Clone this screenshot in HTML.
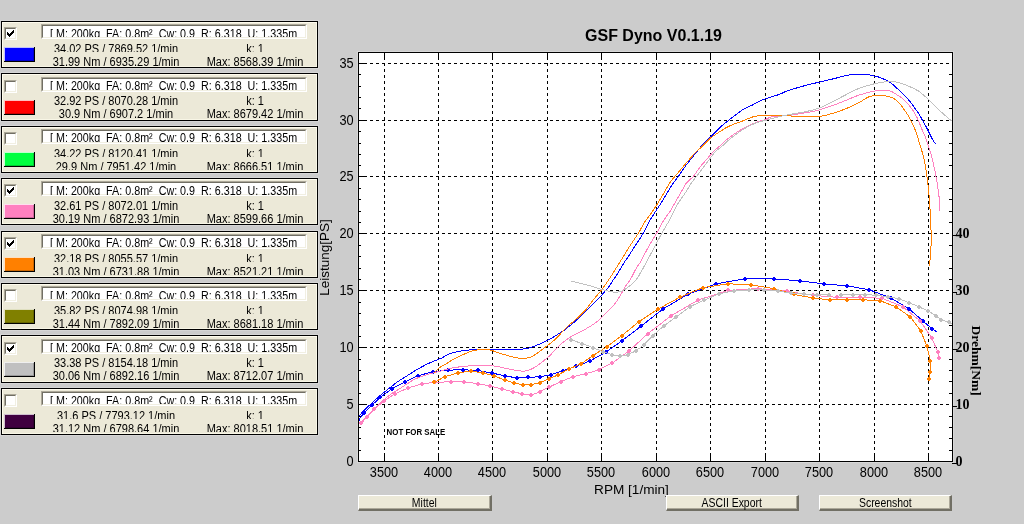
<!DOCTYPE html>
<html><head><meta charset="utf-8"><title>GSF Dyno</title><style>
html,body{margin:0;padding:0}
body{width:1024px;height:524px;background:#CCCCCC;position:relative;overflow:hidden;font-family:"Liberation Sans",Arial,sans-serif;font-size:11px;color:#000}
.pn{position:absolute;left:1px;width:317px;box-sizing:border-box;border:1px solid #000;background:#ECE9D8;box-shadow:inset 1px 1px 0 #FFFCEE,inset -1px -1px 0 #F8F6E6,0 0 0 1px #D6D6D6}
.cb{position:absolute;left:4px;width:13px;height:13px;box-sizing:border-box;background:#fff;border:1px solid;border-color:#ACA899 #FFFFFF #FFFFFF #ACA899}
.cb::before{content:"";position:absolute;left:0;top:0;right:0;bottom:0;border:1px solid;border-color:#716F64 #F1EFE2 #F1EFE2 #716F64}
.cb svg{left:2px!important;top:2px!important}
.sw{position:absolute;left:4px;width:31px;height:15px;box-sizing:border-box;border-right:1px solid #000;border-bottom:1px solid #000;box-shadow:inset 1px 1px 0 rgba(255,255,255,0.75),inset -1px -1px 0 rgba(0,0,0,0.2)}
.tb{position:absolute;left:41px;width:266px;height:15px;box-sizing:border-box;background:#fff;border:1px solid;border-color:#ACA899 #FFFFFF #FFFFFF #ACA899}
.tb::before{content:"";position:absolute;left:0;top:0;right:0;bottom:0;border:1px solid;border-color:#716F64 #F1EFE2 #F1EFE2 #716F64}
.tbc{position:absolute;left:43px;width:261px;overflow:hidden}
.tbt{position:absolute;left:6.6px;white-space:pre;line-height:13px;font-size:12px;transform:scaleX(0.895);transform-origin:0 0}
.ln{position:absolute;left:2px;width:315px;overflow:hidden;white-space:nowrap;font-size:12px}
.c1,.c2{position:absolute;top:0;line-height:13px;transform:translateX(-50%) scaleX(0.917)}
.c1{left:114px}
.c2{left:253px}
.ch{position:absolute;left:0;top:0}
.bt{position:absolute;top:495px;height:16px;box-sizing:border-box;background:#ECE9D8;border-style:solid;border-width:1px 2px 2px 1px;border-color:#FFFFFF #716F64 #716F64 #FFFFFF;box-shadow:inset -1px -1px 0 #ACA899;text-align:center;line-height:14px;font-size:12px}
.bt span{display:inline-block;transform:scaleX(0.87)}
</style></head>
<body>
<div class="pn" style="top:21px;height:47px"></div><div class="cb" style="top:27px"><svg width="7" height="7" viewBox="0 0 7 7" style="position:absolute;left:1px;top:1px" shape-rendering="crispEdges"><path d="M6 0h1v3h-1v1h-1v1h-1v1h-1v1h-1v-1h-1v-1h-1v-3h1v1h1v1h1v-1h1v-1h1z" fill="#000"/></svg></div><div class="sw" style="top:47px;background:#0000FF"></div><div class="tb" style="top:24px"></div><div class="tbc" style="top:26px;height:11px"><div class="tbt" style="top:2px">[ M: 200kg&nbsp; FA: 0.8m&sup2;&nbsp; Cw: 0.9&nbsp; R: 6.318&nbsp; U: 1.335m</div></div><div class="ln" style="top:43px;height:9px"><span class="c1">34.02 PS / 7869.52 1/min</span><span class="c2">k: 1</span></div><div class="ln" style="top:56px;height:11px"><span class="c1">31.99 Nm / 6935.29 1/min</span><span class="c2">Max: 8568.39 1/min</span></div><div class="pn" style="top:73px;height:48px"></div><div class="cb" style="top:80px"></div><div class="sw" style="top:100px;background:#FF0000"></div><div class="tb" style="top:77px"></div><div class="tbc" style="top:79px;height:11px"><div class="tbt" style="top:1px">[ M: 200kg&nbsp; FA: 0.8m&sup2;&nbsp; Cw: 0.9&nbsp; R: 6.318&nbsp; U: 1.335m</div></div><div class="ln" style="top:95px;height:25px"><span class="c1">32.92 PS / 8070.28 1/min</span><span class="c2">k: 1</span></div><div class="ln" style="top:108px;height:12px"><span class="c1">30.9 Nm / 6907.2 1/min</span><span class="c2">Max: 8679.42 1/min</span></div><div class="pn" style="top:126px;height:47px"></div><div class="cb" style="top:132px"></div><div class="sw" style="top:152px;background:#00FF40"></div><div class="tb" style="top:129px"></div><div class="tbc" style="top:131px;height:11px"><div class="tbt" style="top:1px">[ M: 200kg&nbsp; FA: 0.8m&sup2;&nbsp; Cw: 0.9&nbsp; R: 6.318&nbsp; U: 1.335m</div></div><div class="ln" style="top:148px;height:9px"><span class="c1">34.22 PS / 8120.41 1/min</span><span class="c2">k: 1</span></div><div class="ln" style="top:161px;height:9px"><span class="c1">29.9 Nm / 7951.42 1/min</span><span class="c2">Max: 8666.51 1/min</span></div><div class="pn" style="top:178px;height:47px"></div><div class="cb" style="top:184px"><svg width="7" height="7" viewBox="0 0 7 7" style="position:absolute;left:1px;top:1px" shape-rendering="crispEdges"><path d="M6 0h1v3h-1v1h-1v1h-1v1h-1v1h-1v-1h-1v-1h-1v-3h1v1h1v1h1v-1h1v-1h1z" fill="#000"/></svg></div><div class="sw" style="top:204px;background:#FF80C0"></div><div class="tb" style="top:181px"></div><div class="tbc" style="top:183px;height:12px"><div class="tbt" style="top:2px">[ M: 200kg&nbsp; FA: 0.8m&sup2;&nbsp; Cw: 0.9&nbsp; R: 6.318&nbsp; U: 1.335m</div></div><div class="ln" style="top:200px;height:24px"><span class="c1">32.61 PS / 8072.01 1/min</span><span class="c2">k: 1</span></div><div class="ln" style="top:213px;height:11px"><span class="c1">30.19 Nm / 6872.93 1/min</span><span class="c2">Max: 8599.66 1/min</span></div><div class="pn" style="top:231px;height:47px"></div><div class="cb" style="top:237px"><svg width="7" height="7" viewBox="0 0 7 7" style="position:absolute;left:1px;top:1px" shape-rendering="crispEdges"><path d="M6 0h1v3h-1v1h-1v1h-1v1h-1v1h-1v-1h-1v-1h-1v-3h1v1h1v1h1v-1h1v-1h1z" fill="#000"/></svg></div><div class="sw" style="top:257px;background:#FF8000"></div><div class="tb" style="top:234px"></div><div class="tbc" style="top:236px;height:11px"><div class="tbt" style="top:1px">[ M: 200kg&nbsp; FA: 0.8m&sup2;&nbsp; Cw: 0.9&nbsp; R: 6.318&nbsp; U: 1.335m</div></div><div class="ln" style="top:253px;height:9px"><span class="c1">32.18 PS / 8055.57 1/min</span><span class="c2">k: 1</span></div><div class="ln" style="top:266px;height:9px"><span class="c1">31.03 Nm / 6731.88 1/min</span><span class="c2">Max: 8521.21 1/min</span></div><div class="pn" style="top:283px;height:47px"></div><div class="cb" style="top:289px"></div><div class="sw" style="top:309px;background:#808000"></div><div class="tb" style="top:286px"></div><div class="tbc" style="top:288px;height:11px"><div class="tbt" style="top:2px">[ M: 200kg&nbsp; FA: 0.8m&sup2;&nbsp; Cw: 0.9&nbsp; R: 6.318&nbsp; U: 1.335m</div></div><div class="ln" style="top:305px;height:9px"><span class="c1">35.82 PS / 8074.98 1/min</span><span class="c2">k: 1</span></div><div class="ln" style="top:318px;height:11px"><span class="c1">31.44 Nm / 7892.09 1/min</span><span class="c2">Max: 8681.18 1/min</span></div><div class="pn" style="top:335px;height:48px"></div><div class="cb" style="top:342px"><svg width="7" height="7" viewBox="0 0 7 7" style="position:absolute;left:1px;top:1px" shape-rendering="crispEdges"><path d="M6 0h1v3h-1v1h-1v1h-1v1h-1v1h-1v-1h-1v-1h-1v-3h1v1h1v1h1v-1h1v-1h1z" fill="#000"/></svg></div><div class="sw" style="top:362px;background:#C0C0C0"></div><div class="tb" style="top:339px"></div><div class="tbc" style="top:341px;height:11px"><div class="tbt" style="top:1px">[ M: 200kg&nbsp; FA: 0.8m&sup2;&nbsp; Cw: 0.9&nbsp; R: 6.318&nbsp; U: 1.335m</div></div><div class="ln" style="top:357px;height:25px"><span class="c1">33.38 PS / 8154.18 1/min</span><span class="c2">k: 1</span></div><div class="ln" style="top:370px;height:12px"><span class="c1">30.06 Nm / 6892.16 1/min</span><span class="c2">Max: 8712.07 1/min</span></div><div class="pn" style="top:388px;height:47px"></div><div class="cb" style="top:394px"></div><div class="sw" style="top:414px;background:#400040"></div><div class="tb" style="top:391px"></div><div class="tbc" style="top:393px;height:11px"><div class="tbt" style="top:2px">[ M: 200kg&nbsp; FA: 0.8m&sup2;&nbsp; Cw: 0.9&nbsp; R: 6.318&nbsp; U: 1.335m</div></div><div class="ln" style="top:410px;height:9px"><span class="c1">31.6 PS / 7793.12 1/min</span><span class="c2">k: 1</span></div><div class="ln" style="top:423px;height:9px"><span class="c1">31.12 Nm / 6798.64 1/min</span><span class="c2">Max: 8018.51 1/min</span></div>
<svg class="ch" width="1024" height="524" viewBox="0 0 1024 524"><rect x="357.5" y="51.5" width="596" height="411" fill="none" stroke="#D8D8D8" stroke-width="1" shape-rendering="crispEdges"/><rect x="358" y="52" width="595" height="410" fill="#fff"/><path d="M384.5 462V52M438.5 462V52M492.5 462V52M547.5 462V52M601.5 462V52M656.5 462V52M710.5 462V52M765.5 462V52M819.5 462V52M874.5 462V52M928.5 462V52M358 63.5H953M358 120.5H953M358 176.5H953M358 233.5H953M358 290.5H953M358 347.5H953M358 404.5H953" stroke="#000" stroke-width="1" stroke-dasharray="3 3" fill="none" shape-rendering="crispEdges"/><path d="M384.5 52V60M384.5 462V453M438.5 52V60M438.5 462V453M492.5 52V60M492.5 462V453M547.5 52V60M547.5 462V453M601.5 52V60M601.5 462V453M656.5 52V60M656.5 462V453M710.5 52V60M710.5 462V453M765.5 52V60M765.5 462V453M819.5 52V60M819.5 462V453M874.5 52V60M874.5 462V453M928.5 52V60M928.5 462V453M358 63.5H367M358 120.5H367M358 176.5H367M358 233.5H367M358 290.5H367M358 347.5H367M358 404.5H367M358 450.5H361M953 450.5H949M358 438.5H361M953 438.5H949M358 427.5H361M953 427.5H949M358 416.5H361M953 416.5H949M358 393.5H361M953 393.5H949M358 381.5H361M953 381.5H949M358 370.5H361M953 370.5H949M358 359.5H361M953 359.5H949M358 336.5H361M953 336.5H949M358 325.5H361M953 325.5H949M358 313.5H361M953 313.5H949M358 302.5H361M953 302.5H949M358 279.5H361M953 279.5H949M358 268.5H361M953 268.5H949M358 256.5H361M953 256.5H949M358 245.5H361M953 245.5H949M358 222.5H361M953 222.5H949M358 211.5H361M953 211.5H949M358 199.5H361M953 199.5H949M358 188.5H361M953 188.5H949M358 165.5H361M953 165.5H949M358 154.5H361M953 154.5H949M358 143.5H361M953 143.5H949M358 131.5H361M953 131.5H949M358 108.5H361M953 108.5H949M358 97.5H361M953 97.5H949M358 86.5H361M953 86.5H949M358 74.5H361M953 74.5H949M952 463.5H957M952 406.5H957M952 349.5H957M952 292.5H957M952 235.5H957" stroke="#000" stroke-width="1" fill="none" shape-rendering="crispEdges"/><rect x="358.5" y="52.5" width="594" height="409" fill="none" stroke="#000" stroke-width="1" shape-rendering="crispEdges"/><clipPath id="pc"><rect x="359" y="53" width="593" height="408"/></clipPath><g clip-path="url(#pc)" fill="none" stroke-width="1" stroke-linejoin="round" shape-rendering="crispEdges"><path d="M358.2 416.6C359.1 415.7 361.7 413.0 363.4 411.3C365.1 409.6 366.5 408.1 368.4 406.3C370.3 404.5 372.5 402.3 374.6 400.4C376.7 398.5 378.9 396.7 380.8 395.1C382.7 393.5 383.9 392.5 385.8 391.0C387.7 389.5 389.9 387.7 392.0 386.1C394.1 384.5 396.1 382.8 398.1 381.4C400.2 380.0 402.2 378.9 404.3 377.6C406.4 376.3 408.6 374.8 410.5 373.6C412.4 372.4 413.1 371.9 416.0 370.2C418.9 368.5 423.8 365.7 428.1 363.6C432.4 361.6 437.9 359.7 441.9 357.9C445.9 356.1 446.9 354.3 452.2 352.9C457.5 351.5 467.0 350.1 473.6 349.5C480.2 348.9 483.8 349.2 491.9 349.1C500.0 349.0 515.3 349.6 522.4 349.1C529.5 348.6 530.4 347.5 534.7 346.0C539.0 344.5 544.4 341.9 548.0 340.1C551.6 338.3 553.7 336.9 556.6 335.1C559.5 333.3 561.9 331.9 565.2 329.4C568.5 326.9 573.0 323.3 576.6 320.1C580.2 316.9 583.6 313.2 586.7 310.1C589.8 307.0 593.0 303.7 595.3 301.5C597.6 299.3 599.0 298.3 600.5 296.7C602.0 295.1 602.9 293.7 604.4 291.9C605.9 290.1 607.9 288.0 609.4 286.0C610.9 284.0 612.0 281.8 613.4 279.7C614.8 277.6 616.0 276.2 617.6 273.6C619.2 271.1 621.1 267.4 623.0 264.4C624.9 261.3 627.2 258.2 629.1 255.3C631.0 252.4 632.7 249.5 634.4 246.9C636.1 244.3 637.8 241.8 639.3 239.6C640.8 237.3 641.4 236.4 643.1 233.4C644.8 230.4 647.2 225.2 649.3 221.5C651.4 217.8 653.3 215.0 655.5 211.5C657.7 208.0 660.1 204.8 662.7 200.5C665.4 196.2 668.7 190.1 671.4 186.0C674.1 181.9 676.3 179.3 678.8 175.8C681.2 172.3 683.5 168.7 686.1 165.2C688.7 161.7 691.8 158.0 694.5 154.7C697.2 151.4 699.5 148.2 702.2 145.3C704.9 142.4 707.4 140.1 710.5 137.0C713.6 133.9 717.9 129.4 721.0 126.5C724.1 123.6 725.9 122.4 729.4 119.7C732.9 117.0 738.1 112.7 742.0 110.2C745.9 107.8 749.0 106.8 752.5 105.0C756.0 103.2 758.5 101.5 763.0 99.7C767.5 97.9 775.6 95.8 779.6 94.3C783.6 92.8 782.8 92.4 787.3 90.9C791.8 89.4 800.8 86.7 806.3 85.2C811.8 83.7 815.5 83.1 820.0 82.0C824.5 80.9 828.9 79.9 833.4 78.8C837.9 77.7 843.2 76.1 846.7 75.4C850.2 74.7 851.2 74.6 854.4 74.4C857.6 74.2 862.3 74.1 865.8 74.4C869.3 74.7 873.0 75.8 875.4 76.3C877.8 76.8 878.2 76.8 880.0 77.5C881.8 78.2 884.3 79.3 886.1 80.2C887.9 81.1 889.2 81.6 890.7 82.7C892.2 83.8 893.8 85.4 895.3 86.8C896.8 88.2 898.4 89.5 899.9 90.9C901.4 92.4 902.8 93.8 904.4 95.5C906.0 97.2 908.0 99.1 909.8 101.3C911.6 103.5 913.5 106.2 915.1 108.5C916.8 110.8 918.4 113.1 919.7 115.2C921.0 117.3 921.6 118.9 922.8 121.0C923.9 123.1 925.6 125.7 926.6 127.6C927.6 129.5 928.0 130.4 928.9 132.2C929.8 134.0 930.9 136.5 931.9 138.3C932.9 140.2 934.2 142.3 935.0 143.3C935.8 144.3 936.2 144.3 936.5 144.5" stroke="#0000FF"/><path d="M358.3 419.9L364.2 413.0L371.7 405.4L380.5 397.2L391.9 388.8L404.8 381.9L417.7 375.8L432.8 371.8L447.9 370.1L463.2 369.8L478.2 370.5L491.8 373.0L505.0 375.8L516.9 378.0L528.0 377.4L540.0 376.7L551.1 374.7L563.1 370.7L575.7 366.3L589.8 361.1L605.5 352.3L621.6 341.1L641.0 326.2L662.8 309.1L687.9 294.3L716.1 283.8L744.9 278.8L773.9 278.9L800.0 280.8L824.0 283.9L847.0 285.8L869.0 289.7L890.8 298.0L909.0 308.8L923.0 321.0L931.8 328.6L936.8 331.8" stroke="#0000FF"/><path d="M357 418h2v1h1v2h-1v1h-2v-1h-1v-2h1zM363 411h2v1h1v2h-1v1h-2v-1h-1v-2h1zM371 403h2v1h1v2h-1v1h-2v-1h-1v-2h1zM379 395h2v1h1v2h-1v1h-2v-1h-1v-2h1zM391 387h2v1h1v2h-1v1h-2v-1h-1v-2h1zM404 380h2v1h1v2h-1v1h-2v-1h-1v-2h1zM417 374h2v1h1v2h-1v1h-2v-1h-1v-2h1zM432 370h2v1h1v2h-1v1h-2v-1h-1v-2h1zM447 368h2v1h1v2h-1v1h-2v-1h-1v-2h1zM462 368h2v1h1v2h-1v1h-2v-1h-1v-2h1zM477 368h2v1h1v2h-1v1h-2v-1h-1v-2h1zM491 371h2v1h1v2h-1v1h-2v-1h-1v-2h1zM504 374h2v1h1v2h-1v1h-2v-1h-1v-2h1zM516 376h2v1h1v2h-1v1h-2v-1h-1v-2h1zM527 375h2v1h1v2h-1v1h-2v-1h-1v-2h1zM539 375h2v1h1v2h-1v1h-2v-1h-1v-2h1zM550 373h2v1h1v2h-1v1h-2v-1h-1v-2h1zM562 369h2v1h1v2h-1v1h-2v-1h-1v-2h1zM575 364h2v1h1v2h-1v1h-2v-1h-1v-2h1zM589 359h2v1h1v2h-1v1h-2v-1h-1v-2h1zM605 350h2v1h1v2h-1v1h-2v-1h-1v-2h1zM621 339h2v1h1v2h-1v1h-2v-1h-1v-2h1zM640 324h2v1h1v2h-1v1h-2v-1h-1v-2h1zM662 307h2v1h1v2h-1v1h-2v-1h-1v-2h1zM687 292h2v1h1v2h-1v1h-2v-1h-1v-2h1zM715 282h2v1h1v2h-1v1h-2v-1h-1v-2h1zM744 277h2v1h1v2h-1v1h-2v-1h-1v-2h1zM773 277h2v1h1v2h-1v1h-2v-1h-1v-2h1zM799 279h2v1h1v2h-1v1h-2v-1h-1v-2h1zM823 282h2v1h1v2h-1v1h-2v-1h-1v-2h1zM846 284h2v1h1v2h-1v1h-2v-1h-1v-2h1zM868 288h2v1h1v2h-1v1h-2v-1h-1v-2h1zM890 296h2v1h1v2h-1v1h-2v-1h-1v-2h1zM908 307h2v1h1v2h-1v1h-2v-1h-1v-2h1zM922 319h2v1h1v2h-1v1h-2v-1h-1v-2h1zM931 327h2v1h1v2h-1v1h-2v-1h-1v-2h1z" fill="#0000FF" stroke="none"/><path d="M359.6 423.2C359.8 423.0 359.5 423.2 361.0 421.9C362.5 420.6 365.9 417.5 368.4 415.2C370.9 412.9 373.3 410.4 375.8 407.9C378.3 405.4 380.8 402.7 383.3 400.4C385.8 398.1 388.0 396.2 390.7 394.3C393.4 392.4 396.5 390.6 399.4 388.8C402.3 387.0 405.3 385.0 408.1 383.3C410.9 381.6 412.1 380.3 416.0 378.6C419.9 376.9 427.6 374.5 431.6 373.3C435.6 372.1 436.1 372.2 440.0 371.2C443.9 370.2 448.9 368.4 455.3 367.4C461.7 366.4 471.9 365.6 478.2 365.4C484.5 365.1 488.3 365.3 493.4 365.9C498.5 366.5 503.6 368.0 508.7 368.9C513.8 369.8 519.7 371.4 524.0 371.2C528.3 370.9 530.9 369.6 534.7 367.4C538.5 365.2 543.7 360.8 546.9 358.2C550.1 355.6 551.1 354.1 553.7 351.6C556.3 349.1 559.2 345.6 562.3 343.0C565.4 340.4 568.7 337.9 572.3 335.8C575.9 333.7 580.0 332.2 583.8 330.1C587.6 328.0 592.3 325.1 595.3 323.0C598.3 320.9 599.6 319.2 601.7 317.2C603.8 315.2 605.9 312.9 608.0 310.8C610.1 308.7 612.5 306.8 614.5 304.3C616.5 301.8 618.2 298.9 620.0 296.0C621.8 293.1 623.3 289.7 625.0 287.0C626.7 284.3 628.2 282.9 630.2 279.7C632.2 276.4 635.0 270.4 636.7 267.5C638.4 264.6 639.2 264.3 640.5 262.1C641.8 259.9 642.9 257.4 644.4 254.5C645.9 251.6 647.7 248.1 649.7 244.6C651.7 241.1 654.2 237.4 656.5 233.4C658.8 229.4 661.3 224.2 663.6 220.5C665.9 216.8 668.2 214.2 670.3 211.0C672.4 207.8 674.1 204.2 676.0 201.0C677.9 197.8 679.8 194.4 681.5 191.5C683.2 188.6 684.0 186.1 686.0 183.5C688.0 180.9 691.2 178.9 693.5 176.2C695.8 173.5 697.5 170.2 699.8 167.3C702.1 164.4 704.6 161.7 707.1 158.9C709.6 156.1 712.0 152.9 714.5 150.5C717.0 148.1 720.0 145.9 722.0 144.2C724.0 142.5 723.8 142.1 726.2 140.1C728.7 138.1 733.2 134.6 736.7 132.3C740.2 130.0 743.7 128.2 747.2 126.5C750.7 124.8 754.7 122.9 757.7 121.8C760.7 120.7 762.7 120.5 765.1 119.7C767.5 118.9 768.0 117.5 772.0 116.8C776.0 116.1 783.8 115.9 789.2 115.3C794.6 114.7 799.3 113.9 804.4 113.0C809.5 112.1 814.2 111.4 820.0 109.7C825.8 108.0 832.7 105.5 839.1 103.1C845.5 100.7 852.8 97.3 858.2 95.4C863.6 93.5 868.0 92.4 871.6 91.6C875.2 90.8 877.8 90.8 880.0 90.6C882.2 90.4 883.2 90.3 885.0 90.4C886.8 90.5 888.7 90.5 890.7 91.2C892.7 91.9 894.8 93.4 896.8 94.7C898.8 96.0 900.6 96.9 902.9 98.9C905.2 101.0 908.2 104.0 910.5 107.0C912.8 110.0 914.9 113.5 916.7 116.9C918.5 120.3 919.7 124.0 921.2 127.6C922.7 131.2 924.6 135.2 925.8 138.3C927.0 141.5 927.8 144.1 928.6 146.5C929.4 148.9 929.8 149.7 930.7 152.9C931.6 156.1 932.8 161.4 933.8 165.7C934.8 170.0 935.6 174.3 936.4 178.6C937.2 182.9 937.9 187.6 938.4 191.4C938.9 195.2 939.3 198.5 939.5 201.7C939.7 204.9 939.7 209.0 939.7 210.5" stroke="#FF80C0"/><path d="M361.3 423.4L367.1 416.8L374.3 409.2L383.9 401.0L394.6 394.1L407.6 388.1L421.8 384.0L435.0 382.3L450.9 381.8L464.0 381.8L478.0 383.7L490.0 385.9L502.1 389.0L512.9 391.8L522.1 393.8L531.0 395.2L540.0 391.7L549.0 387.1L560.7 381.8L572.7 376.7L586.1 373.7L598.8 369.8L612.5 362.9L629.3 350.7L647.6 333.9L670.9 315.9L698.0 300.1L728.0 290.5L757.6 288.6L786.8 291.2L812.7 295.3L836.9 297.3L859.9 297.2L881.9 298.3L902.8 306.7L920.0 320.9L931.6 337.5L937.6 351.5L939.0 358.1" stroke="#FF80C0"/><path d="M360 421h2v1h1v2h-1v1h-2v-1h-1v-2h1zM366 415h2v1h1v2h-1v1h-2v-1h-1v-2h1zM373 407h2v1h1v2h-1v1h-2v-1h-1v-2h1zM383 399h2v1h1v2h-1v1h-2v-1h-1v-2h1zM394 392h2v1h1v2h-1v1h-2v-1h-1v-2h1zM407 386h2v1h1v2h-1v1h-2v-1h-1v-2h1zM421 382h2v1h1v2h-1v1h-2v-1h-1v-2h1zM434 380h2v1h1v2h-1v1h-2v-1h-1v-2h1zM450 380h2v1h1v2h-1v1h-2v-1h-1v-2h1zM463 380h2v1h1v2h-1v1h-2v-1h-1v-2h1zM477 382h2v1h1v2h-1v1h-2v-1h-1v-2h1zM489 384h2v1h1v2h-1v1h-2v-1h-1v-2h1zM501 387h2v1h1v2h-1v1h-2v-1h-1v-2h1zM512 390h2v1h1v2h-1v1h-2v-1h-1v-2h1zM521 392h2v1h1v2h-1v1h-2v-1h-1v-2h1zM530 393h2v1h1v2h-1v1h-2v-1h-1v-2h1zM539 390h2v1h1v2h-1v1h-2v-1h-1v-2h1zM548 385h2v1h1v2h-1v1h-2v-1h-1v-2h1zM560 380h2v1h1v2h-1v1h-2v-1h-1v-2h1zM572 375h2v1h1v2h-1v1h-2v-1h-1v-2h1zM585 372h2v1h1v2h-1v1h-2v-1h-1v-2h1zM598 368h2v1h1v2h-1v1h-2v-1h-1v-2h1zM611 361h2v1h1v2h-1v1h-2v-1h-1v-2h1zM628 349h2v1h1v2h-1v1h-2v-1h-1v-2h1zM647 332h2v1h1v2h-1v1h-2v-1h-1v-2h1zM670 314h2v1h1v2h-1v1h-2v-1h-1v-2h1zM697 298h2v1h1v2h-1v1h-2v-1h-1v-2h1zM727 288h2v1h1v2h-1v1h-2v-1h-1v-2h1zM757 287h2v1h1v2h-1v1h-2v-1h-1v-2h1zM786 289h2v1h1v2h-1v1h-2v-1h-1v-2h1zM812 293h2v1h1v2h-1v1h-2v-1h-1v-2h1zM836 295h2v1h1v2h-1v1h-2v-1h-1v-2h1zM859 295h2v1h1v2h-1v1h-2v-1h-1v-2h1zM881 296h2v1h1v2h-1v1h-2v-1h-1v-2h1zM902 305h2v1h1v2h-1v1h-2v-1h-1v-2h1zM919 319h2v1h1v2h-1v1h-2v-1h-1v-2h1zM931 336h2v1h1v2h-1v1h-2v-1h-1v-2h1zM937 350h2v1h1v2h-1v1h-2v-1h-1v-2h1zM938 356h2v1h1v2h-1v1h-2v-1h-1v-2h1z" fill="#FF80C0" stroke="none"/><path d="M434.2 372.8C435.2 371.9 438.0 368.9 440.0 367.4C442.0 365.9 443.4 365.4 446.0 363.9C448.6 362.4 450.7 360.4 455.3 358.2C459.9 356.0 468.0 352.0 473.6 350.6C479.2 349.2 484.3 349.3 488.9 349.8C493.5 350.3 495.9 352.3 501.0 353.7C506.1 355.1 514.3 357.7 519.4 358.2C524.5 358.7 526.8 358.9 531.6 356.7C536.4 354.5 543.8 348.3 548.0 345.2C552.2 342.1 553.5 341.0 556.6 338.0C559.7 335.0 563.3 330.5 566.6 327.3C569.9 324.1 573.2 321.8 576.6 318.7C580.0 315.6 584.1 311.5 586.7 308.6C589.3 305.7 589.5 304.7 592.0 301.5C594.5 298.3 598.8 293.4 601.8 289.5C604.8 285.6 607.0 282.4 610.0 277.8C613.0 273.2 616.6 267.4 619.9 262.1C623.2 256.8 626.7 250.9 629.8 246.1C632.9 241.3 635.8 237.3 638.3 233.4C640.8 229.5 642.0 226.2 644.5 222.4C647.0 218.6 650.1 215.0 653.1 210.5C656.1 206.0 659.8 199.9 662.7 195.2C665.6 190.4 667.4 186.3 670.4 182.0C673.4 177.7 677.8 173.2 680.9 169.4C684.0 165.6 686.7 162.4 689.3 159.4C691.9 156.4 694.1 153.9 696.6 151.5C699.1 149.1 701.7 146.9 704.0 144.7C706.3 142.4 708.0 140.1 710.5 138.0C713.0 135.9 715.8 134.3 718.9 132.3C722.0 130.3 725.5 127.8 729.4 126.0C733.2 124.2 738.1 122.7 742.0 121.2C745.9 119.7 749.4 118.0 752.5 117.0C755.6 116.0 758.0 115.8 760.9 115.5C763.8 115.2 765.3 115.2 770.0 115.3C774.7 115.4 783.5 115.7 789.2 115.9C794.9 116.2 799.3 116.7 804.4 116.8C809.5 116.9 814.2 117.3 820.0 116.4C825.8 115.5 832.7 113.5 839.1 111.3C845.5 109.1 853.4 105.4 858.2 103.1C863.0 100.8 864.8 98.6 867.7 97.3C870.6 96.0 873.4 95.7 875.4 95.4C877.4 95.1 878.0 95.2 880.0 95.4C882.0 95.6 885.3 95.8 887.6 96.3C889.9 96.8 891.7 97.2 893.7 98.5C895.8 99.8 898.1 102.0 899.9 103.9C901.7 105.8 902.9 107.8 904.4 110.0C905.9 112.2 907.6 114.5 909.0 116.9C910.4 119.3 911.5 121.7 912.8 124.5C914.1 127.3 915.7 131.0 916.7 133.7C917.7 136.4 917.8 137.7 918.6 140.5C919.4 143.3 920.8 147.0 921.7 150.3C922.7 153.7 923.4 156.3 924.3 160.6C925.2 164.9 926.2 170.9 926.9 176.0C927.6 181.1 928.2 186.2 928.7 191.4C929.2 196.6 929.6 201.8 929.9 206.9C930.2 212.1 930.5 217.2 930.7 222.3C930.9 227.4 931.2 232.6 931.2 237.7C931.2 242.8 931.0 248.4 930.7 253.1C930.4 257.8 929.6 263.9 929.4 266.0" stroke="#FF8000"/><path d="M434.0 382.4L444.7 376.8L458.0 373.0L471.0 371.0L483.0 373.0L493.6 375.8L505.0 380.0L513.8 383.0L522.7 384.8L531.0 384.8L540.0 382.7L548.7 378.7L558.1 375.0L568.7 369.0L580.8 364.0L593.0 355.6L607.0 346.7L621.6 335.8L638.9 321.7L658.0 309.1L680.0 297.1L702.7 287.7L728.0 283.8L750.9 284.8L773.9 288.7L793.8 294.4L812.7 297.9L829.9 300.0L847.0 299.9L862.7 299.8L879.9 300.6L896.0 306.9L910.1 316.7L920.7 330.8L927.0 346.4L930.4 361.0L930.4 371.8L929.1 379.4" stroke="#FF8000"/><path d="M433 380h2v1h1v2h-1v1h-2v-1h-1v-2h1zM444 375h2v1h1v2h-1v1h-2v-1h-1v-2h1zM457 371h2v1h1v2h-1v1h-2v-1h-1v-2h1zM470 369h2v1h1v2h-1v1h-2v-1h-1v-2h1zM482 371h2v1h1v2h-1v1h-2v-1h-1v-2h1zM493 374h2v1h1v2h-1v1h-2v-1h-1v-2h1zM504 378h2v1h1v2h-1v1h-2v-1h-1v-2h1zM513 381h2v1h1v2h-1v1h-2v-1h-1v-2h1zM522 383h2v1h1v2h-1v1h-2v-1h-1v-2h1zM530 383h2v1h1v2h-1v1h-2v-1h-1v-2h1zM539 381h2v1h1v2h-1v1h-2v-1h-1v-2h1zM548 377h2v1h1v2h-1v1h-2v-1h-1v-2h1zM557 373h2v1h1v2h-1v1h-2v-1h-1v-2h1zM568 367h2v1h1v2h-1v1h-2v-1h-1v-2h1zM580 362h2v1h1v2h-1v1h-2v-1h-1v-2h1zM592 354h2v1h1v2h-1v1h-2v-1h-1v-2h1zM606 345h2v1h1v2h-1v1h-2v-1h-1v-2h1zM621 334h2v1h1v2h-1v1h-2v-1h-1v-2h1zM638 320h2v1h1v2h-1v1h-2v-1h-1v-2h1zM657 307h2v1h1v2h-1v1h-2v-1h-1v-2h1zM679 295h2v1h1v2h-1v1h-2v-1h-1v-2h1zM702 286h2v1h1v2h-1v1h-2v-1h-1v-2h1zM727 282h2v1h1v2h-1v1h-2v-1h-1v-2h1zM750 283h2v1h1v2h-1v1h-2v-1h-1v-2h1zM773 287h2v1h1v2h-1v1h-2v-1h-1v-2h1zM793 292h2v1h1v2h-1v1h-2v-1h-1v-2h1zM812 296h2v1h1v2h-1v1h-2v-1h-1v-2h1zM829 298h2v1h1v2h-1v1h-2v-1h-1v-2h1zM846 298h2v1h1v2h-1v1h-2v-1h-1v-2h1zM862 298h2v1h1v2h-1v1h-2v-1h-1v-2h1zM879 299h2v1h1v2h-1v1h-2v-1h-1v-2h1zM895 305h2v1h1v2h-1v1h-2v-1h-1v-2h1zM909 315h2v1h1v2h-1v1h-2v-1h-1v-2h1zM920 329h2v1h1v2h-1v1h-2v-1h-1v-2h1zM926 344h2v1h1v2h-1v1h-2v-1h-1v-2h1zM929 359h2v1h1v2h-1v1h-2v-1h-1v-2h1zM929 370h2v1h1v2h-1v1h-2v-1h-1v-2h1zM928 377h2v1h1v2h-1v1h-2v-1h-1v-2h1z" fill="#FF8000" stroke="none"/><path d="M571.0 281.1C573.1 281.6 580.3 283.4 583.8 284.3C587.3 285.2 589.1 285.5 592.0 286.4C594.9 287.2 598.2 288.5 601.2 289.4C604.2 290.2 607.8 291.0 610.3 291.5C612.8 292.0 614.0 292.3 616.0 292.2C618.0 292.1 619.7 292.1 622.2 290.9C624.7 289.7 628.4 287.0 630.8 285.1C633.1 283.2 634.7 281.8 636.3 279.7C637.9 277.6 639.0 275.3 640.5 272.8C642.0 270.3 643.6 267.4 645.1 264.6C646.6 261.8 648.4 258.4 649.7 256.0C651.0 253.6 651.5 252.7 653.0 250.0C654.5 247.3 656.6 242.9 658.4 239.6C660.2 236.3 661.6 233.6 663.6 230.1C665.6 226.6 668.1 222.8 670.3 218.6C672.5 214.4 674.6 209.1 677.0 205.0C679.4 200.9 682.2 197.7 684.6 194.0C687.0 190.3 689.4 186.0 691.4 183.0C693.4 180.0 694.9 178.5 696.6 176.2C698.4 173.9 700.0 171.9 701.9 169.4C703.8 166.9 705.9 164.0 708.2 161.0C710.5 158.0 713.2 153.9 715.5 151.5C717.8 149.1 720.0 148.0 722.0 146.3C724.0 144.6 724.8 143.3 727.3 141.2C729.8 139.1 733.4 136.2 736.7 133.8C740.0 131.4 743.7 128.9 747.2 127.0C750.7 125.1 754.7 123.4 757.7 122.3C760.7 121.2 760.5 121.6 765.1 120.4C769.7 119.2 778.9 116.7 785.4 115.3C791.9 113.9 798.6 113.2 804.4 111.9C810.2 110.7 814.2 110.1 820.0 107.8C825.8 105.5 832.7 101.5 839.1 98.3C845.5 95.1 852.5 91.1 858.2 88.7C863.9 86.3 869.9 85.0 873.5 84.0C877.1 83.0 877.4 83.0 880.0 82.6C882.6 82.2 886.2 81.4 889.2 81.4C892.2 81.4 895.0 81.7 898.3 82.5C901.6 83.3 905.7 84.9 909.0 86.3C912.3 87.7 915.1 88.9 918.2 90.9C921.3 92.9 924.4 95.7 927.4 98.5C930.4 101.3 933.7 105.0 936.5 107.7C939.3 110.4 941.9 112.6 944.2 114.6C946.5 116.6 948.8 118.8 950.3 119.9C951.8 121.1 952.5 121.2 953.0 121.5" stroke="#C0C0C0"/><path d="M570.7 339.6L582.1 343.6L593.0 347.6L603.1 351.8L612.0 354.8L620.1 355.9L627.7 354.8L636.1 350.7L643.8 344.9L652.9 335.5L663.9 325.8L676.1 317.0L689.8 306.7L704.2 300.1L719.0 293.9L733.7 290.8L749.0 289.9L764.1 290.0L778.0 290.9L790.8 293.1L804.0 293.8L817.0 294.9L829.0 295.0L840.9 295.0L853.0 294.6L864.7 294.6L875.9 295.2L888.0 296.8L898.8 298.7L909.0 302.7L919.0 306.8L928.1 311.0L935.9 315.8L941.4 319.8L948.8 322.3L953.0 324.0" stroke="#C0C0C0"/><path d="M570 338h2v1h1v2h-1v1h-2v-1h-1v-2h1zM581 342h2v1h1v2h-1v1h-2v-1h-1v-2h1zM592 346h2v1h1v2h-1v1h-2v-1h-1v-2h1zM602 350h2v1h1v2h-1v1h-2v-1h-1v-2h1zM611 353h2v1h1v2h-1v1h-2v-1h-1v-2h1zM619 354h2v1h1v2h-1v1h-2v-1h-1v-2h1zM627 353h2v1h1v2h-1v1h-2v-1h-1v-2h1zM635 349h2v1h1v2h-1v1h-2v-1h-1v-2h1zM643 343h2v1h1v2h-1v1h-2v-1h-1v-2h1zM652 334h2v1h1v2h-1v1h-2v-1h-1v-2h1zM663 324h2v1h1v2h-1v1h-2v-1h-1v-2h1zM675 315h2v1h1v2h-1v1h-2v-1h-1v-2h1zM689 305h2v1h1v2h-1v1h-2v-1h-1v-2h1zM703 298h2v1h1v2h-1v1h-2v-1h-1v-2h1zM718 292h2v1h1v2h-1v1h-2v-1h-1v-2h1zM733 289h2v1h1v2h-1v1h-2v-1h-1v-2h1zM748 288h2v1h1v2h-1v1h-2v-1h-1v-2h1zM763 288h2v1h1v2h-1v1h-2v-1h-1v-2h1zM777 289h2v1h1v2h-1v1h-2v-1h-1v-2h1zM790 291h2v1h1v2h-1v1h-2v-1h-1v-2h1zM803 292h2v1h1v2h-1v1h-2v-1h-1v-2h1zM816 293h2v1h1v2h-1v1h-2v-1h-1v-2h1zM828 293h2v1h1v2h-1v1h-2v-1h-1v-2h1zM840 293h2v1h1v2h-1v1h-2v-1h-1v-2h1zM852 293h2v1h1v2h-1v1h-2v-1h-1v-2h1zM864 293h2v1h1v2h-1v1h-2v-1h-1v-2h1zM875 293h2v1h1v2h-1v1h-2v-1h-1v-2h1zM887 295h2v1h1v2h-1v1h-2v-1h-1v-2h1zM898 297h2v1h1v2h-1v1h-2v-1h-1v-2h1zM908 301h2v1h1v2h-1v1h-2v-1h-1v-2h1zM918 305h2v1h1v2h-1v1h-2v-1h-1v-2h1zM927 309h2v1h1v2h-1v1h-2v-1h-1v-2h1zM935 314h2v1h1v2h-1v1h-2v-1h-1v-2h1zM940 318h2v1h1v2h-1v1h-2v-1h-1v-2h1zM948 320h2v1h1v2h-1v1h-2v-1h-1v-2h1z" fill="#C0C0C0" stroke="none"/></g><text transform="translate(384,477) scale(0.91,1)" font-family="Liberation Sans, sans-serif" font-size="14" text-anchor="middle">3500</text><text transform="translate(438,477) scale(0.91,1)" font-family="Liberation Sans, sans-serif" font-size="14" text-anchor="middle">4000</text><text transform="translate(492,477) scale(0.91,1)" font-family="Liberation Sans, sans-serif" font-size="14" text-anchor="middle">4500</text><text transform="translate(547,477) scale(0.91,1)" font-family="Liberation Sans, sans-serif" font-size="14" text-anchor="middle">5000</text><text transform="translate(601,477) scale(0.91,1)" font-family="Liberation Sans, sans-serif" font-size="14" text-anchor="middle">5500</text><text transform="translate(656,477) scale(0.91,1)" font-family="Liberation Sans, sans-serif" font-size="14" text-anchor="middle">6000</text><text transform="translate(710,477) scale(0.91,1)" font-family="Liberation Sans, sans-serif" font-size="14" text-anchor="middle">6500</text><text transform="translate(765,477) scale(0.91,1)" font-family="Liberation Sans, sans-serif" font-size="14" text-anchor="middle">7000</text><text transform="translate(819,477) scale(0.91,1)" font-family="Liberation Sans, sans-serif" font-size="14" text-anchor="middle">7500</text><text transform="translate(874,477) scale(0.91,1)" font-family="Liberation Sans, sans-serif" font-size="14" text-anchor="middle">8000</text><text transform="translate(928,477) scale(0.91,1)" font-family="Liberation Sans, sans-serif" font-size="14" text-anchor="middle">8500</text><text transform="translate(353.6,68) scale(0.91,1)" font-family="Liberation Sans, sans-serif" font-size="14" text-anchor="end">35</text><text transform="translate(353.6,125) scale(0.91,1)" font-family="Liberation Sans, sans-serif" font-size="14" text-anchor="end">30</text><text transform="translate(353.6,181) scale(0.91,1)" font-family="Liberation Sans, sans-serif" font-size="14" text-anchor="end">25</text><text transform="translate(353.6,238) scale(0.91,1)" font-family="Liberation Sans, sans-serif" font-size="14" text-anchor="end">20</text><text transform="translate(353.6,295) scale(0.91,1)" font-family="Liberation Sans, sans-serif" font-size="14" text-anchor="end">15</text><text transform="translate(353.6,352) scale(0.91,1)" font-family="Liberation Sans, sans-serif" font-size="14" text-anchor="end">10</text><text transform="translate(353.6,409) scale(0.91,1)" font-family="Liberation Sans, sans-serif" font-size="14" text-anchor="end">5</text><text transform="translate(353.6,466) scale(0.91,1)" font-family="Liberation Sans, sans-serif" font-size="14" text-anchor="end">0</text><text transform="translate(631.5,494) scale(1,1)" font-family="Liberation Sans, sans-serif" font-size="13.6" text-anchor="middle">RPM [1/min]</text><text x="653.5" y="41" font-family="Liberation Sans, sans-serif" font-size="16" font-weight="bold" text-anchor="middle">GSF Dyno V0.1.19</text><text transform="translate(329.2,257.4) rotate(-90)" font-family="Liberation Sans, sans-serif" font-size="13.5" text-anchor="middle">Leistung[PS]</text><text x="955.5" y="465.5" font-family="Liberation Serif, serif" font-weight="bold" font-size="14">0</text><text x="955.5" y="408.5" font-family="Liberation Serif, serif" font-weight="bold" font-size="14">10</text><text x="955.5" y="351.5" font-family="Liberation Serif, serif" font-weight="bold" font-size="14">20</text><text x="955.5" y="294.5" font-family="Liberation Serif, serif" font-weight="bold" font-size="14">30</text><text x="955.5" y="237.5" font-family="Liberation Serif, serif" font-weight="bold" font-size="14">40</text><text transform="translate(971.5,360.6) rotate(90)" font-family="Liberation Serif, serif" font-weight="bold" font-size="13.5" text-anchor="middle">Drehm[Nm]</text><text transform="translate(386.6,435) scale(0.93,1)" font-family="Liberation Sans, sans-serif" font-size="8.5" font-weight="bold">NOT FOR SALE</text></svg>
<div class="bt" style="left:358px;width:134px"><span>Mittel</span></div><div class="bt" style="left:666px;width:133px"><span>ASCII Export</span></div><div class="bt" style="left:819px;width:133px"><span>Screenshot</span></div>
</body></html>
